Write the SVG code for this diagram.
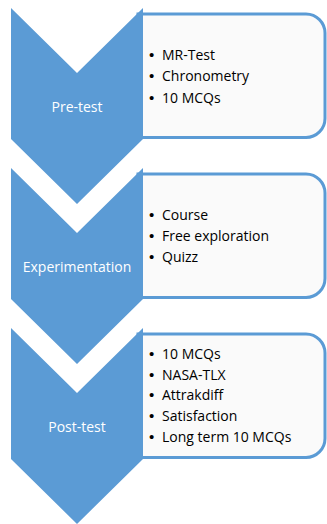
<svg xmlns="http://www.w3.org/2000/svg" width="327" height="524" viewBox="0 0 327 524">
<style>
.box{fill:#fafafa;stroke:#5b9bd5;stroke-width:3}
.chev{fill:#5b9bd5}
.lab{font-family:"Open Sans","Liberation Sans",sans-serif;font-size:14px;fill:#ffffff;text-anchor:middle}
.item{font-family:"Open Sans","Liberation Sans",sans-serif;font-size:14px;fill:#000000}
.bul{font-family:"Liberation Sans",sans-serif;font-size:15px;fill:#000000}
</style>
<defs>
<polygon id="chevron" points="11,0 77,65 143,0 143,131 77,196 11,131"/>
<path id="panel" d="M138,0 H306 A19,19 0 0 1 325,19 V104.5 A19,19 0 0 1 306,123.5 H138 Z"/>
</defs>
<rect width="327" height="524" fill="#ffffff"/>
<g id="connectors"/>
<g id="pretest">
<use href="#panel" class="box" transform="translate(0,14)"/>
<use href="#chevron" class="chev" transform="translate(0,8)"/>
<text class="lab" x="77" y="112">Pre-test</text>
<text class="bul"><tspan x="149" y="60">•</tspan><tspan x="149" y="81">•</tspan><tspan x="149" y="102.5">•</tspan></text>
<text class="item"><tspan x="162" y="60">MR-Test</tspan><tspan x="162" y="81">Chronometry</tspan><tspan x="162" y="102.5">10 MCQs</tspan></text>
</g>
<g id="experimentation">
<use href="#panel" class="box" transform="translate(0,174)"/>
<use href="#chevron" class="chev" transform="translate(0,168)"/>
<text class="lab" x="77" y="272">Experimentation</text>
<text class="bul"><tspan x="149" y="220">•</tspan><tspan x="149" y="241">•</tspan><tspan x="149" y="262">•</tspan></text>
<text class="item"><tspan x="162" y="220">Course</tspan><tspan x="162" y="241">Free exploration</tspan><tspan x="162" y="262">Quizz</tspan></text>
</g>
<g id="posttest">
<use href="#panel" class="box" transform="translate(0,334)"/>
<use href="#chevron" class="chev" transform="translate(0,328)"/>
<text class="lab" x="77" y="432">Post-test</text>
<text class="bul"><tspan x="149" y="358.5">•</tspan><tspan x="149" y="379.5">•</tspan><tspan x="149" y="400">•</tspan><tspan x="149" y="421">•</tspan><tspan x="149" y="441.5">•</tspan></text>
<text class="item"><tspan x="162" y="358.5">10 MCQs</tspan><tspan x="162" y="379.5">NASA-TLX</tspan><tspan x="162" y="400">Attrakdiff</tspan><tspan x="162" y="421">Satisfaction</tspan><tspan x="162" y="441.5">Long term 10 MCQs</tspan></text>
</g>
</svg>
